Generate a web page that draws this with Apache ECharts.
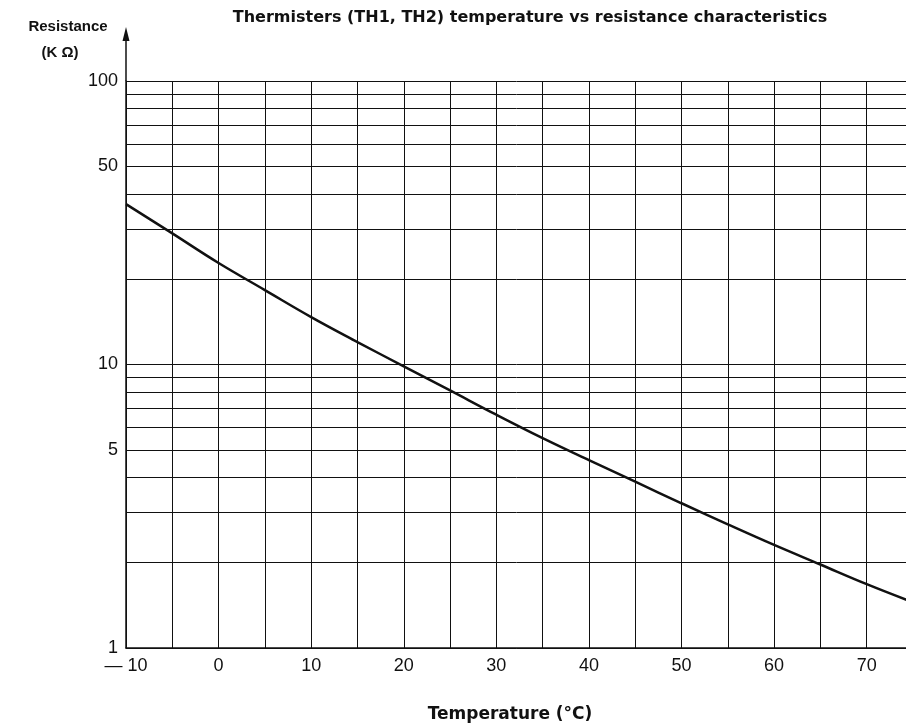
<!DOCTYPE html>
<html>
<head>
<meta charset="utf-8">
<script src="https://cdn.jsdelivr.net/npm/echarts@6/dist/echarts.min.js"></script>
<style>html,body{margin:0;padding:0;background:#fff}#c{width:906px;height:724px}</style>
</head>
<body>
<div id="c"></div>
<script>
// Data
const temperatures = [-10, -5, 0, 5, 10, 15, 20, 25, 30, 35, 40, 45, 50, 55, 60, 65, 70, 75];
const resistanceK = [36.8, 29.0, 22.8, 18.3, 14.7, 12.0, 9.85, 8.1, 6.65, 5.5, 4.6, 3.86, 3.24, 2.73, 2.31, 1.97, 1.68, 1.45];
const yGridValues = [1, 2, 3, 4, 5, 6, 7, 8, 9, 10, 20, 30, 40, 50, 60, 70, 80, 90, 100];
const yLabelValues = [1, 5, 10, 50, 100];
const xLabelValues = [-10, 0, 10, 20, 30, 40, 50, 60, 70];

const titleText = 'Thermisters (TH1, TH2) temperature vs resistance characteristics';
const yName1 = 'Resistance';
const yName2 = '(K \u03A9)';
const xName = 'Temperature (\u00B0C)';

const chart = echarts.init(document.getElementById('c'), null, {renderer: 'canvas'});
const ink = '#111';
const labelFont = 'Liberation Sans';

chart.setOption({
  backgroundColor: '#fff',
  animation: false,
  title: [
    {text: titleText, left: 525, top: 5, textAlign: 'center',
     textStyle: {fontFamily: 'DejaVu Sans', fontWeight: 'bold', fontSize: 16, color: ink}},
    {text: yName1, left: 63, top: 14, textAlign: 'center',
     textStyle: {fontFamily: labelFont, fontWeight: 'bold', fontSize: 15, color: ink}},
    {text: yName2, left: 55, top: 40, textAlign: 'center',
     textStyle: {fontFamily: labelFont, fontWeight: 'bold', fontSize: 15, color: ink}},
    {text: xName, left: 505, top: 701, textAlign: 'center',
     textStyle: {fontFamily: 'DejaVu Sans', fontWeight: 'bold', fontSize: 17, color: ink}}
  ],
  grid: {left: 126, top: 81, width: 787, height: 567, containLabel: false, outerBoundsMode: 'none'},
  xAxis: {
    type: 'value', min: -10, max: 75, interval: 5,
    axisLine: {show: true, onZero: false, lineStyle: {color: ink, width: 1.5}},
    axisTick: {show: false},
    axisLabel: {
      margin: 9, fontFamily: labelFont, fontSize: 18, color: ink,
      formatter: v => xLabelValues.indexOf(v) >= 0 ? (v < 0 ? '\u2014 ' + Math.abs(v) : String(v)) : ''
    },
    splitLine: {show: true, lineStyle: {color: ink, width: 1}}
  },
  yAxis: {
    type: 'log', logBase: 10, min: 1, max: 100,
    axisLine: {show: true, onZero: false, lineStyle: {color: ink, width: 1.5}},
    axisTick: {show: false, customValues: yGridValues},
    axisLabel: {margin: 8, fontFamily: labelFont, fontSize: 18, color: ink, customValues: yLabelValues},
    splitLine: {show: true, lineStyle: {color: ink, width: 1}},
    minorSplitLine: {show: false}
  },
  graphic: [
    {type: 'line', shape: {x1: 126, y1: 81, x2: 126, y2: 36}, style: {stroke: ink, lineWidth: 1.5}},
    {type: 'polygon', shape: {points: [[126, 27], [122.5, 41], [129.5, 41]]}, style: {fill: ink}}
  ],
  series: [{
    type: 'line',
    data: temperatures.map((t, i) => [t, resistanceK[i]]),
    smooth: 0.4,
    symbol: 'none',
    lineStyle: {color: ink, width: 2.5},
    clip: true
  }]
});
</script>
</body>
</html>
